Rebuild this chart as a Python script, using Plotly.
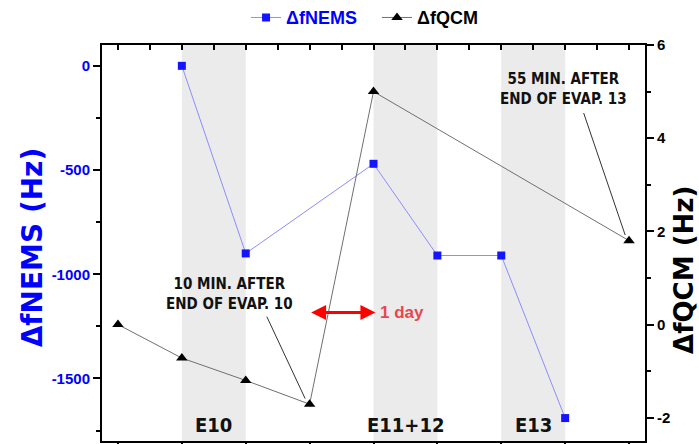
import plotly.graph_objects as go

# ---- data ----
nems_x = [1, 2, 4, 5, 6, 7]
nems_y = [0, -900, -470, -910, -910, -1690]
qcm_x = [0, 1, 2, 3, 4, 8]
qcm_y = [0.0, -0.72, -1.2, -1.71, 5.0, 1.8]
evap_bands = [(1, 2), (4, 5), (6, 7)]
evap_labels = ["E10", "E11+12", "E13"]
left_ticks = [0, -500, -1000, -1500]
left_ticktext = ["0", "-500", "-1000", "-1500"]
right_ticks = [-2, 0, 2, 4, 6]
right_ticktext = ["-2", "0", "2", "4", "6"]

FONT = "Liberation Sans, Arial, sans-serif"
ANNFONT = "DejaVu Sans Condensed, DejaVu Sans, sans-serif"
TITLEFONT = "DejaVu Sans, sans-serif"
BLUE = "#0000ff"

fig = go.Figure()

fig.add_trace(go.Scatter(
    x=nems_x, y=nems_y, mode="lines+markers",
    name="<span style='color:#0000ff'>ΔfNEMS</span>\u00a0\u00a0\u00a0",
    line=dict(color="#8c8cff", width=1),
    marker=dict(symbol="square", size=8, color="#1414ff", line=dict(width=0)),
    xaxis="x", yaxis="y",
))
fig.add_trace(go.Scatter(
    x=qcm_x, y=qcm_y, mode="lines+markers",
    name="ΔfQCM",
    line=dict(color="#707070", width=1),
    marker=dict(symbol="triangle-up", size=10, color="black", line=dict(width=0)),
    xaxis="x", yaxis="y2",
))
# invisible trace for the top axis
fig.add_trace(go.Scatter(x=[0], y=[0], xaxis="x2", yaxis="y", mode="markers",
                         marker=dict(opacity=0), showlegend=False, hoverinfo="skip"))

shapes = []
for a, b in evap_bands:
    shapes.append(dict(type="rect", xref="x", yref="paper", x0=a, x1=b, y0=0, y1=1,
                       fillcolor="#ebebeb", line=dict(width=0), layer="below"))
# pointer lines for the text notes
shapes.append(dict(type="line", xref="x", yref="y2", x0=2.33, y0=0.17,
                   x1=qcm_x[3] - 0.07, y1=qcm_y[3] + 0.12, line=dict(color="#333", width=1)))
shapes.append(dict(type="line", xref="x", yref="y2", x0=7.29, y0=4.54,
                   x1=qcm_x[5] - 0.06, y1=qcm_y[5] + 0.12, line=dict(color="#333", width=1)))

annotations = []
for (a, b), lab in zip(evap_bands, evap_labels):
    annotations.append(dict(x=(a + b) / 2, y=0.04, xref="x", yref="paper", text=lab,
                            showarrow=False, font=dict(family=ANNFONT, size=20, color="#111", weight="bold"),
                            yanchor="middle"))
annotations.append(dict(x=1.74, y=0.68, xref="x", yref="y2", showarrow=False, yshift=-1,
                        text="10 MIN. AFTER<br>END OF EVAP. 10",
                        font=dict(family=ANNFONT, size=15, color="#111", weight="bold")))
annotations.append(dict(x=6.97, y=5.06, xref="x", yref="y2", showarrow=False,
                        text="55 MIN. AFTER<br>END OF EVAP. 13",
                        font=dict(family=ANNFONT, size=15, color="#111", weight="bold")))
# 1 day arrow
annotations.append(dict(x=4.03, y=0.26, ax=3.0, ay=0.26, xref="x", yref="y2", axref="x", ayref="y2",
                        text="", showarrow=True, arrowhead=2, arrowside="end+start",
                        arrowsize=1, arrowwidth=3, arrowcolor="#ff0000", standoff=0, startstandoff=0))
annotations.append(dict(x=4.07, y=0.26, xref="x", yref="y2", text="1 day", showarrow=False,
                        xanchor="left", font=dict(family=FONT, size=17, color="#e8474e", weight="bold")))
# axis titles
annotations.append(dict(x=-0.129, y=0.489, xref="paper", yref="paper", textangle=-90, showarrow=False,
                        xanchor="center", yanchor="middle",
                        text="ΔfNEMS (Hz)",
                        font=dict(family=TITLEFONT, size=28, color=BLUE, weight="bold")))
annotations.append(dict(x=1.0718, y=0.432, xref="paper", yref="paper", textangle=-90, showarrow=False,
                        xanchor="center", yanchor="middle",
                        text="ΔfQCM (Hz)",
                        font=dict(family=TITLEFONT, size=26, color="black", weight="bold")))

fig.update_layout(
    width=699, height=444,
    margin=dict(l=102, r=54, t=45, b=3, autoexpand=False),
    paper_bgcolor="white", plot_bgcolor="white",
    shapes=shapes, annotations=annotations,
    showlegend=True,
    legend=dict(orientation="h", x=0.352, y=0.96, xref="container", yref="container",
                xanchor="left", yanchor="middle",
                font=dict(family=FONT, size=18, weight="bold", color="black"), itemwidth=30,
                bgcolor="rgba(0,0,0,0)"),
    xaxis=dict(range=[-0.25, 8.25], showline=True, linecolor="black", linewidth=2, automargin=False,
               ticks="outside", tickvals=list(range(9)), ticklen=8, tickwidth=1.5, tickcolor="black",
               showticklabels=False, showgrid=False, zeroline=False),
    xaxis2=dict(range=[-0.25, 8.25], overlaying="x", side="top", anchor="y", showline=True, automargin=False,
                linecolor="black", linewidth=2, ticks="inside", tick0=0, dtick=0.5, ticklen=5,
                tickwidth=1.5, tickcolor="black", showticklabels=False, showgrid=False, zeroline=False),
    yaxis=dict(range=[-1800, 100], showline=True, linecolor="black", linewidth=2, automargin=False,
               ticks="outside", tickvals=left_ticks, ticktext=left_ticktext, ticklen=7, tickwidth=1.5,
               tickcolor="black",
               minor=dict(dtick=250, tick0=0, ticks="outside", ticklen=4, tickcolor="black", tickwidth=1.5),
               tickfont=dict(family=FONT, size=15, color=BLUE, weight="bold"),
               showgrid=False, zeroline=False),
    yaxis2=dict(range=[-2.5, 6], overlaying="y", side="right", anchor="x", showline=True, automargin=False,
                linecolor="black", linewidth=2, ticks="outside", tickvals=right_ticks,
                ticktext=right_ticktext, ticklen=7,
                tickwidth=1.5, tickcolor="black",
                minor=dict(dtick=1, tick0=0, ticks="outside", ticklen=4, tickcolor="black", tickwidth=1.5),
                tickfont=dict(family=FONT, size=15, color="black", weight="bold"),
                showgrid=False, zeroline=False),
)

fig.write_html("out.html")
